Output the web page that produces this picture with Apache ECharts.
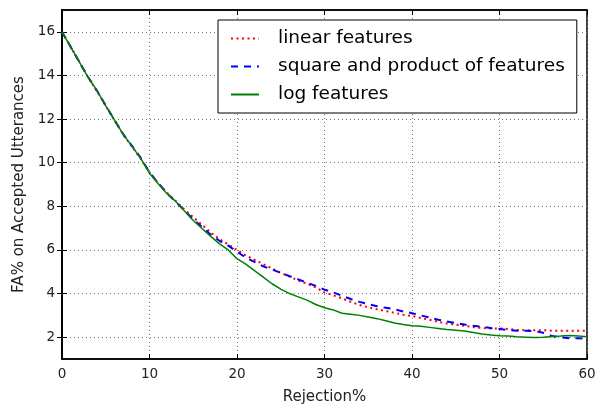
<!DOCTYPE html>
<html><head><meta charset="utf-8">
<script src="https://cdn.jsdelivr.net/npm/echarts@6/dist/echarts.min.js"></script>
<style>html,body{margin:0;padding:0;background:#fff}#c{width:596px;height:405px}</style>
</head><body><div id="c"></div>
<script>
const rejection = [0,1,2,3,4,5,6,7,8,9,10,11,12,13,14,15,16,17,18,19,20,21,22,23,24,25,26,27,28,29,30,31,32,33,34,35,36,37,38,39,40,41,42,43,44,45,46,47,48,49,50,51,52,53,54,55,56,57,58,59,60];
const linearFeatures = [16,15.3,14.62,13.9,13.28,12.6,11.95,11.28,10.73,10.18,9.55,9.05,8.62,8.24,7.85,7.5,7.15,6.8,6.5,6.25,6.0,5.75,5.55,5.35,5.15,4.95,4.78,4.6,4.45,4.28,4.05,3.92,3.78,3.62,3.48,3.37,3.28,3.2,3.12,3.03,2.97,2.88,2.8,2.7,2.63,2.57,2.52,2.46,2.42,2.4,2.4,2.38,2.33,2.32,2.32,2.32,2.3,2.3,2.3,2.3,2.3];
const squareProductFeatures = [16,15.3,14.6,13.92,13.3,12.62,11.95,11.3,10.77,10.22,9.55,9.07,8.6,8.2,7.8,7.4,7.05,6.7,6.42,6.2,5.92,5.65,5.45,5.25,5.1,4.95,4.8,4.65,4.5,4.35,4.18,4.05,3.9,3.75,3.62,3.52,3.42,3.35,3.28,3.18,3.1,3.0,2.9,2.8,2.72,2.65,2.58,2.52,2.48,2.42,2.38,2.32,2.3,2.3,2.28,2.2,2.05,2.0,1.95,1.95,1.92];
const logFeatures = [16,15.3,14.6,13.9,13.3,12.6,11.95,11.3,10.75,10.2,9.52,9.03,8.58,8.22,7.78,7.35,6.98,6.62,6.28,6.0,5.6,5.35,5.05,4.75,4.45,4.2,4.0,3.85,3.7,3.5,3.35,3.25,3.1,3.05,3.0,2.93,2.85,2.75,2.65,2.58,2.52,2.5,2.45,2.4,2.35,2.32,2.28,2.22,2.15,2.1,2.07,2.05,2.02,2.0,1.98,2.0,2.03,2.05,2.08,2.05,2.02];
const seriesNames = ['linear features','square and product of features','log features'];
const yTicks = [2,4,6,8,10,12,14,16];

const FONT = 'DejaVu Sans';
const pair = (ys) => rejection.map((x,i)=>[x, ys[i]]);
const chart = echarts.init(document.getElementById('c'), null, {renderer:'canvas'});
const tick = {show:true, inside:true, length:5, lineStyle:{color:'#000', width:1}};
const axisLine = {show:true, lineStyle:{color:'#000', width:1.5}};
chart.setOption({
  animation:false,
  backgroundColor:'#fff',
  textStyle:{fontFamily:FONT},
  grid:{left:62, right:9, top:10, bottom:46, show:true, borderColor:'#000', borderWidth:1.5,
        backgroundColor:'transparent', containLabel:false, outerBoundsMode:'none'},
  legend:{
    data:seriesNames, orient:'vertical', left:218, top:20,
    padding:[9,12,9,12], itemGap:9, itemWidth:28, itemHeight:16,
    borderColor:'#000', borderWidth:1, backgroundColor:'#fff',
    itemStyle:{color:'transparent', borderWidth:0, opacity:0},
    textStyle:{fontFamily:FONT, fontSize:18.5, color:'#000', padding:[0,0,0,14]}
  },
  xAxis:[{
    type:'value', min:0, max:60, interval:10, position:'bottom',
    name:'Rejection%', nameLocation:'middle', nameGap:31,
    nameTextStyle:{fontFamily:FONT, fontSize:15, color:'#222'},
    axisLine:axisLine, axisTick:tick,
    axisLabel:{fontFamily:FONT, fontSize:13.5, color:'#222', margin:8},
    splitLine:{show:true, lineStyle:{color:'#777', type:[1,3], width:1}}
  },{
    type:'value', min:0, max:60, interval:10, position:'top',
    axisLine:axisLine, axisTick:tick,
    axisLabel:{show:false}, splitLine:{show:false}
  }],
  yAxis:[{
    type:'value', min:1, max:17, position:'left',
    name:'FA% on Accepted Utterances', nameLocation:'middle', nameGap:35,
    nameTextStyle:{fontFamily:FONT, fontSize:15, color:'#222'},
    axisLine:axisLine,
    axisTick:Object.assign({customValues:yTicks}, tick),
    axisLabel:{fontFamily:FONT, fontSize:13.5, color:'#222', margin:7, customValues:yTicks},
    splitLine:{show:true, lineStyle:{color:'#777', type:[1,3], width:1}}
  },{
    type:'value', min:1, max:17, position:'right',
    axisLine:axisLine,
    axisTick:Object.assign({customValues:yTicks}, tick),
    axisLabel:{show:false, customValues:yTicks}, splitLine:{show:false}
  }],
  series:[
    {name:seriesNames[0], type:'line', data:pair(linearFeatures), showSymbol:false, symbol:'none',
     lineStyle:{color:'#ff0000', width:2, type:[2,3.5]}, itemStyle:{color:'#ff0000'}, z:3},
    {name:seriesNames[1], type:'line', data:pair(squareProductFeatures), showSymbol:false, symbol:'none',
     lineStyle:{color:'#0000ff', width:2, type:[7,6]}, itemStyle:{color:'#0000ff'}, z:4},
    {name:seriesNames[2], type:'line', data:pair(logFeatures), showSymbol:false, symbol:'none',
     lineStyle:{color:'#008000', width:1.5, type:'solid'}, itemStyle:{color:'#008000'}, z:5}
  ]
});
</script></body></html>
